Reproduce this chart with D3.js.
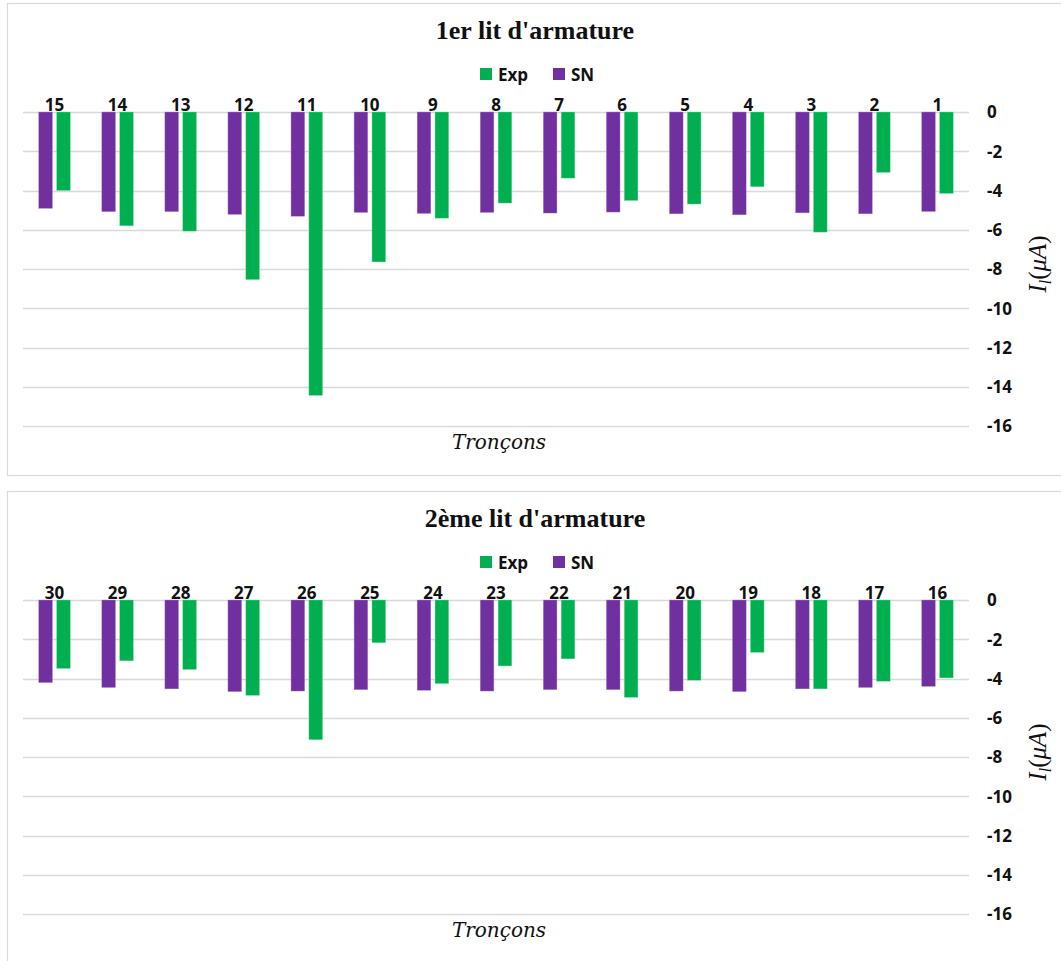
<!DOCTYPE html>
<html><head><meta charset="utf-8">
<script src="https://cdn.jsdelivr.net/npm/d3@7"></script>
<style>
html,body{margin:0;padding:0;background:#fff;}
svg{display:block;}
</style></head>
<body>
<svg id="chart" width="1061" height="961"></svg>
<script>
// ---- data ----
const titles = ["1er lit d'armature", "2ème lit d'armature"];
const categories1 = ["15","14","13","12","11","10","9","8","7","6","5","4","3","2","1"];
const exp1 = [-4.0,-5.8,-6.07,-8.54,-14.44,-7.64,-5.41,-4.64,-3.37,-4.51,-4.69,-3.81,-6.12,-3.08,-4.15];
const sn1  = [-4.91,-5.08,-5.08,-5.22,-5.31,-5.12,-5.17,-5.12,-5.15,-5.10,-5.19,-5.24,-5.14,-5.19,-5.07];
const categories2 = ["30","29","28","27","26","25","24","23","22","21","20","19","18","17","16"];
const exp2 = [-3.49,-3.10,-3.54,-4.86,-7.12,-2.18,-4.26,-3.36,-3.00,-4.96,-4.09,-2.67,-4.53,-4.14,-3.97];
const sn2  = [-4.21,-4.46,-4.53,-4.67,-4.64,-4.57,-4.60,-4.64,-4.57,-4.57,-4.64,-4.67,-4.53,-4.46,-4.40];
const yTicks = [0,-2,-4,-6,-8,-10,-12,-14,-16];
const seriesNames = ["Exp","SN"];
const seriesColors = {Exp:"#00B050", SN:"#7030A0"};
const xTitle = "Tronçons";

const svg = d3.select("#chart");
const sansFont = "'Open Sans', Lato, sans-serif";

function drawPanel(top, bottom, title, cats, exp, sn) {
  const g = svg.append("g").attr("transform", `translate(0,${top})`);
  g.append("rect").attr("x", 7.5).attr("y", 0.5).attr("width", 1070).attr("height", bottom - top)
    .attr("fill", "#fff").attr("stroke", "#d9d9d9").attr("stroke-width", 1.2);

  const zeroY = 109;
  const y = d3.scaleLinear().domain([-16, 0]).range([zeroY + 314, zeroY]);
  const x = d3.scaleBand().domain(cats).range([23, 969]).paddingInner(0).paddingOuter(0);
  const xs = d3.scaleBand().domain(["SN","Exp"]).range([0, x.bandwidth()]).paddingInner(0.236).paddingOuter(0.88);

  g.append("g").selectAll("line").data(yTicks).join("line")
    .attr("x1", 23).attr("x2", 969)
    .attr("y1", d => Math.round(y(d)) + 0.5).attr("y2", d => Math.round(y(d)) + 0.5)
    .attr("stroke", "#d9d9d9").attr("stroke-width", 1.3);

  const yAxis = d3.axisRight(y).tickValues(yTicks).tickSize(0).tickPadding(0).tickFormat(d => d === 0 ? "0" : "-" + Math.abs(d));
  const ya = g.append("g").attr("transform", "translate(987,0)").call(yAxis);
  ya.select(".domain").remove();
  ya.selectAll("text").attr("font-family", sansFont).attr("font-weight", "bold")
    .attr("font-size", 17).attr("fill", "#111").attr("dy", "0.35em");

  const rows = cats.map((c, i) => ({cat: c, Exp: exp[i], SN: sn[i]}));
  const grp = g.append("g").selectAll("g").data(rows).join("g")
    .attr("transform", d => `translate(${x(d.cat)},0)`);
  grp.selectAll("rect").data(d => ["SN","Exp"].map(k => ({key: k, v: d[k]}))).join("rect")
    .attr("x", d => xs(d.key)).attr("width", xs.bandwidth())
    .attr("y", y(0)).attr("height", d => y(d.v) - y(0))
    .attr("fill", d => seriesColors[d.key])
    .attr("stroke", d => d.key === "SN" ? "#b38fd0" : "#7fe0a8").attr("stroke-width", 0.4);

  g.append("g").selectAll("text").data(cats).join("text")
    .attr("x", d => x(d) + x.bandwidth() / 2).attr("y", zeroY - 1)
    .attr("text-anchor", "middle")
    .attr("font-family", sansFont).attr("font-weight", "bold")
    .attr("font-size", 17).attr("fill", "#111").text(d => d);

  g.append("text").attr("x", 535).attr("y", 36).attr("text-anchor", "middle")
    .attr("font-family", "'Liberation Serif', 'Times New Roman', serif").attr("font-weight", "bold")
    .attr("font-size", 26).attr("fill", "#111").text(title);

  const legX = {Exp: 480, SN: 553};
  const lg = g.append("g");
  seriesNames.forEach(k => {
    lg.append("rect").attr("x", legX[k]).attr("y", 65).attr("width", 12).attr("height", 12).attr("fill", seriesColors[k]);
    lg.append("text").attr("x", legX[k] + 18).attr("y", 78)
      .attr("font-family", sansFont).attr("font-weight", "bold")
      .attr("font-size", 17).attr("fill", "#111").text(k);
  });

  g.append("text").attr("x", 499).attr("y", 446).attr("text-anchor", "middle")
    .attr("font-family", "'DejaVu Serif', serif").attr("font-style", "italic")
    .attr("font-size", 20).attr("fill", "#111").text(xTitle);

  const yt = g.append("text").attr("transform", `translate(1046,${zeroY + 152}) rotate(-90)`)
    .attr("text-anchor", "middle")
    .attr("font-family", "'Liberation Serif', 'Times New Roman', serif").attr("font-style", "italic")
    .attr("font-size", 25).attr("fill", "#111");
  yt.append("tspan").text("I");
  yt.append("tspan").attr("font-size", 16).attr("dy", 5).text("l");
  yt.append("tspan").attr("dy", -5).attr("font-style", "normal").text("(");
  yt.append("tspan").text("μA");
  yt.append("tspan").attr("font-style", "normal").text(")");
}

drawPanel(3, 475, titles[0], categories1, exp1, sn1);
drawPanel(491, 970, titles[1], categories2, exp2, sn2);
</script>
</body></html>
